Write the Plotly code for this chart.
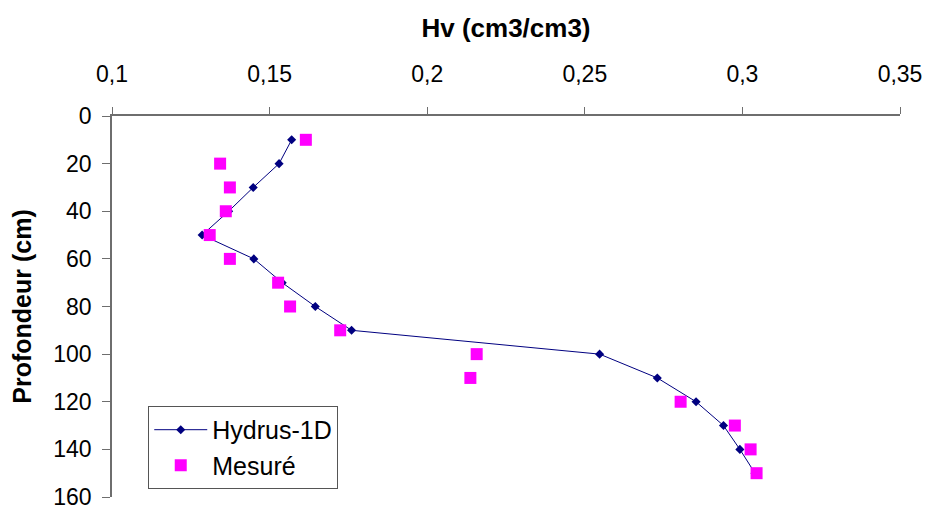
import plotly.graph_objects as go

# profondeur (cm)
depth = [10, 20, 30, 40, 50, 60, 70, 80, 90, 100, 110, 120, 130, 140, 150]

# Hv simulé (Hydrus-1D)
hv_hydrus = [0.157, 0.153, 0.1448, 0.137, 0.1286, 0.145, 0.154, 0.1645, 0.176,
             0.2547, 0.273, 0.2853, 0.294, 0.2992, 0.304]

# Hv mesuré
hv_mesure = [0.1615, 0.1343, 0.1374, 0.1361, 0.131, 0.1374, 0.1527, 0.1565, 0.1724,
             0.2157, 0.2137, 0.2804, 0.2976, 0.3026, 0.3045]

x_ticks = [0.1, 0.15, 0.2, 0.25, 0.3, 0.35]
x_labels = ["0,1", "0,15", "0,2", "0,25", "0,3", "0,35"]
y_ticks = [0, 20, 40, 60, 80, 100, 120, 140, 160]

FONT = "Liberation Sans, Arial, sans-serif"
AXIS_COL = "#6e6e6e"

fig = go.Figure()
fig.add_trace(go.Scatter(
    x=hv_hydrus, y=depth, name="Hydrus-1D", mode="lines+markers",
    line=dict(color="#000080", width=1),
    marker=dict(symbol="diamond", size=7, color="#000080"),
))
fig.add_trace(go.Scatter(
    x=hv_mesure, y=depth, name="Mesuré", mode="markers",
    marker=dict(symbol="square", size=12, color="#ff00ff"),
))

# page body has an 8px margin, so the figure is 8px smaller
fig.update_layout(
    width=922, height=498,
    margin=dict(l=104, r=30, t=108, b=9),
    paper_bgcolor="white", plot_bgcolor="white",
    font=dict(family=FONT, color="black", size=23),
    showlegend=True,
    legend=dict(
        x=0.046, y=0.239, xanchor="left", yanchor="top",
        bgcolor="white", bordercolor="#555555", borderwidth=1,
        font=dict(size=25), itemwidth=53, tracegroupgap=0,
    ),
)
fig.update_xaxes(
    side="top", range=[0.1, 0.35], tickvals=x_ticks, ticktext=x_labels,
    showline=True, linecolor=AXIS_COL, linewidth=1.5, mirror=False,
    ticks="outside", ticklen=7, tickcolor=AXIS_COL, tickwidth=1,
    showgrid=False, zeroline=False, ticklabelstandoff=16,
    title=dict(text="<b>Hv (cm3/cm3)</b>", font=dict(size=26), standoff=16),
    automargin=False,
)
fig.update_yaxes(
    range=[160, 0], tickvals=y_ticks,
    showline=True, linecolor=AXIS_COL, linewidth=1.5,
    ticks="outside", ticklen=8, tickcolor=AXIS_COL, tickwidth=1,
    showgrid=False, zeroline=False, ticklabelstandoff=6,
    ticklabeloverflow="allow",
    title=dict(text="<b>Profondeur (cm)</b>", font=dict(size=25), standoff=15),
    automargin=False,
)

fig.write_html("out.html")
